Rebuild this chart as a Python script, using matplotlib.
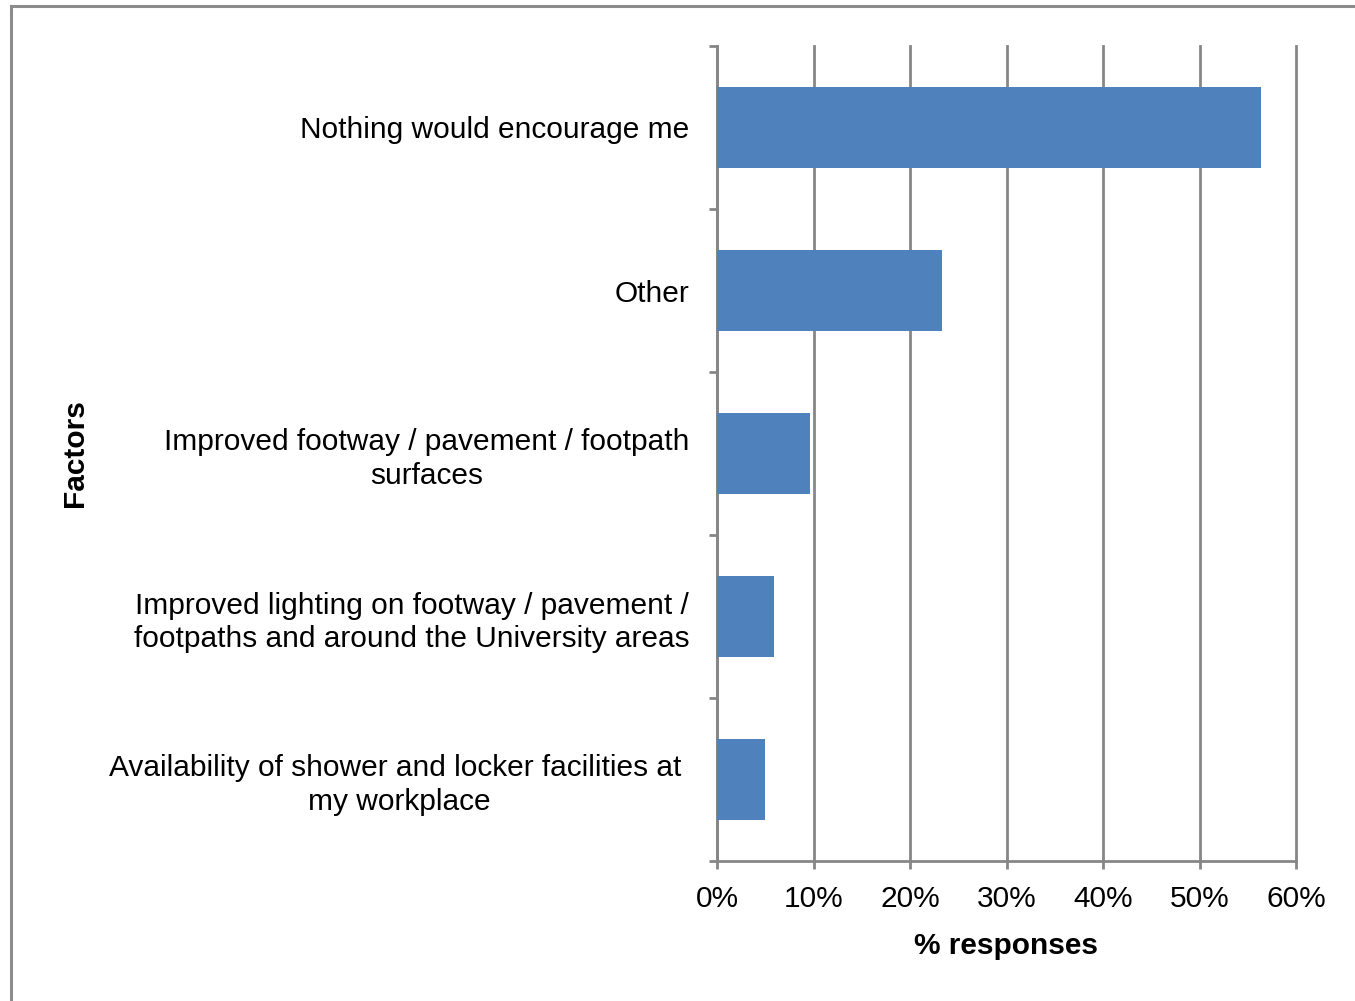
import numpy as np
import matplotlib.pyplot as plt
from matplotlib.patches import Rectangle

factors = [
    "Availability of shower and locker facilities at \nmy workplace",
    "Improved lighting on footway / pavement /\nfootpaths and around the University areas",
    "Improved footway / pavement / footpath\nsurfaces",
    "Other",
    "Nothing would encourage me",
]
responses = [5.0, 5.9, 9.6, 23.3, 56.4]
x_ticks = [0, 10, 20, 30, 40, 50, 60]
x_tick_labels = ["0%", "10%", "20%", "30%", "40%", "50%", "60%"]

plt.rcParams['font.family'] = ['Liberation Sans', 'DejaVu Sans']
grey = '#868686'
fs = 21.5

fig = plt.figure(figsize=(13.55, 10.01), dpi=100)
ax = fig.add_axes([717 / 1355, 1 - 861 / 1001, (1296 - 717) / 1355, (861 - 46) / 1001])

# outer chart border
fig.patches.append(Rectangle((11 / 1355, -0.05), 1.1, 1 - 6 / 1001 + 0.05,
                             transform=fig.transFigure, fill=False,
                             edgecolor='#8c8c8c', linewidth=2.2))

pos = np.arange(len(factors))
ax.barh(pos, responses, height=0.5, color='#4F81BD', zorder=3)

ax.set_xlim(0, 60)
ax.set_ylim(-0.5, len(factors) - 0.5)
ax.set_xticks(x_ticks)
ax.set_xticklabels(x_tick_labels, fontsize=fs)
ax.set_yticks(pos)
ax.set_yticklabels(factors, fontsize=fs, multialignment='center', linespacing=1.25)
ax.set_yticks(np.arange(-0.5, len(factors), 1), minor=True)

ax.tick_params(axis='y', which='major', length=0, pad=20)
ax.tick_params(axis='y', which='minor', length=6, width=2, color=grey, direction='out')
ax.tick_params(axis='x', which='major', length=6, width=2, color=grey, direction='out', pad=11)

ax.grid(axis='x', color=grey, linewidth=2, zorder=0)
for line in ax.get_xgridlines():
    line.set_clip_on(False)
for s in ['top', 'right']:
    ax.spines[s].set_visible(False)
for s in ['left', 'bottom']:
    ax.spines[s].set_color(grey)
    ax.spines[s].set_linewidth(2)

ax.set_xlabel('% responses', fontsize=fs, fontweight='bold', labelpad=14)
fig.text(75 / 1355, 1 - 453 / 1001, 'Factors', fontsize=fs, fontweight='bold',
         rotation=90, ha='center', va='center')

fig.savefig('out.png', dpi=100)
